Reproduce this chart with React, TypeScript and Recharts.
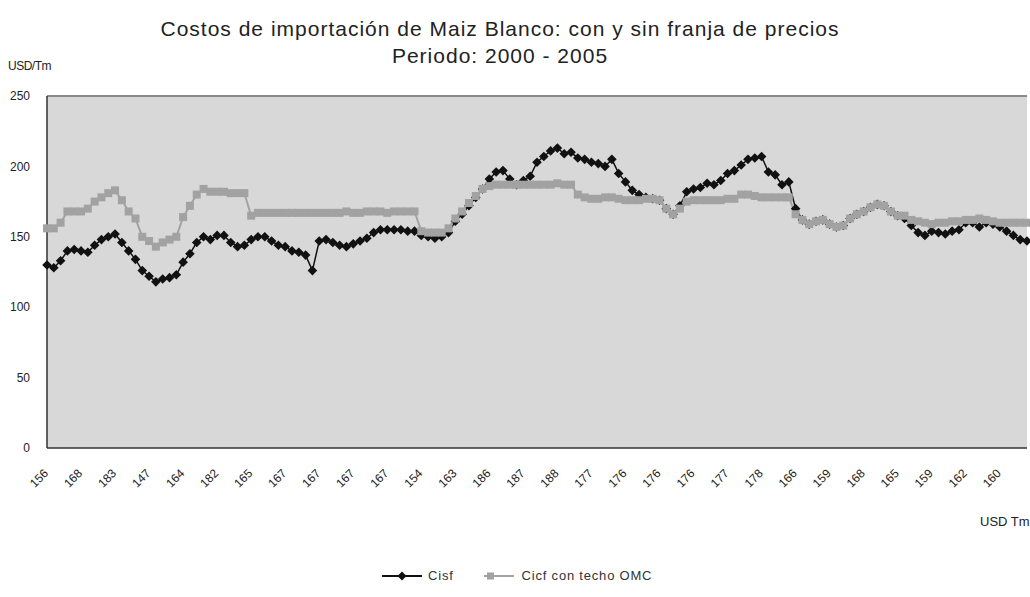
import { LineChart, Line, XAxis, YAxis, CartesianGrid, ReferenceLine } from 'recharts';

// Cisf (sin franja) - weekly import cost, USD/Tm
const cisf = [
  130, 128, 133, 140, 141, 140, 139, 144, 148, 150,
  152, 146, 140, 134, 126, 122, 118, 120, 121, 123,
  132, 138, 146, 150, 148, 151, 151, 146, 143, 144,
  148, 150, 150, 147, 144, 143, 140, 139, 137, 126,
  147, 148, 146, 144, 143, 145, 147, 149, 153, 155,
  155, 155, 155, 154, 154, 151, 150, 149, 150, 153,
  161, 166, 172, 178, 184, 191, 196, 197, 191, 187,
  190, 193, 203, 207, 211, 213, 209, 210, 206, 205,
  203, 202, 200, 205, 195, 189, 183, 180, 178, 177,
  176, 170, 166, 172, 182, 184, 185, 188, 187, 190,
  195, 197, 201, 205, 206, 207, 196, 194, 187, 189,
  170, 162, 159, 161, 162, 159, 157, 158, 163, 166,
  168, 171, 173, 172, 168, 165, 163, 158, 153, 151,
  154, 153, 152, 154, 155, 160, 160, 157, 160, 159,
  157, 154, 151, 148, 147,
];

// Cicf con techo OMC
const cicf = [
  156, 156, 160, 168, 168, 168, 170, 175, 178, 181,
  183, 176, 168, 163, 150, 147, 143, 146, 148, 150,
  164, 172, 180, 184, 182, 182, 182, 181, 181, 181,
  165, 167, 167, 167, 167, 167, 167, 167, 167, 167,
  167, 167, 167, 167, 168, 167, 167, 168, 168, 168,
  167, 168, 168, 168, 168, 154, 153, 153, 153, 156,
  163, 168, 174, 179, 184, 186, 187, 187, 187, 187,
  187, 187, 187, 187, 187, 188, 187, 187, 180, 178,
  177, 177, 178, 178, 177, 176, 176, 176, 177, 177,
  176, 170, 166, 170, 175, 176, 176, 176, 176, 176,
  177, 177, 180, 180, 179, 178, 178, 178, 178, 178,
  166, 162, 159, 161, 162, 159, 157, 158, 163, 166,
  168, 171, 173, 172, 168, 165, 165, 162, 161, 160,
  159, 160, 160, 161, 161, 162, 162, 163, 162, 161,
  160, 160, 160, 160, 160,
];

// category labels shown every 5th week
const tickLabels = [
  156, 168, 183, 147, 164, 182, 165, 167, 167, 167,
  167, 154, 163, 186, 187, 188, 177, 176, 176, 176,
  177, 178, 166, 159, 168, 165, 159, 162, 160,
];

const yTicks = [0, 50, 100, 150, 200, 250];

const data = cisf.map((v, i) => ({ idx: i, cisf: v, cicf: cicf[i] }));

const font = 'Arial, "Liberation Sans", sans-serif';

const Diamond = (props: any) => {
  const { cx, cy, index } = props;
  if (cx == null || cy == null) return null;
  const r = 4.8;
  return (
    <path
      key={`d-${index}`}
      d={`M${cx},${cy - r}L${cx + r},${cy}L${cx},${cy + r}L${cx - r},${cy}Z`}
      fill="#111"
    />
  );
};

const Square = (props: any) => {
  const { cx, cy, index } = props;
  if (cx == null || cy == null) return null;
  return <rect key={`s-${index}`} x={cx - 4} y={cy - 4} width={8} height={8} fill="#a2a2a2" />;
};

export default function App() {
  return (
    <div style={{ position: 'absolute', left: 0, top: 0, width: 1030, height: 597, background: '#fff', fontFamily: font }}>
      <div style={{ position: 'absolute', top: 17, left: 0, width: 1000, textAlign: 'center', fontSize: 21, color: '#222', letterSpacing: 1 }}>
        Costos de importación de Maiz Blanco: con y sin franja de precios
      </div>
      <div style={{ position: 'absolute', top: 44, left: 0, width: 1000, textAlign: 'center', fontSize: 21, color: '#222', letterSpacing: 1 }}>
        Periodo: 2000 - 2005
      </div>
      <div style={{ position: 'absolute', top: 59, left: 8, fontSize: 12, color: '#222', letterSpacing: -0.5 }}>USD/Tm</div>
      <div style={{ position: 'absolute', top: 514, left: 980, fontSize: 13, color: '#222', whiteSpace: 'nowrap' }}>USD Tm</div>

      <div style={{ position: 'absolute', left: 0, top: 0 }}>
        <LineChart width={1030} height={597} data={data} margin={{ top: 96, right: 3, bottom: 0, left: 0 }}>
          <CartesianGrid horizontal={false} vertical={false} fill="#d8d8d8" />
          <ReferenceLine y={250} stroke="#8a8a8a" strokeWidth={2} />
          <XAxis
            dataKey="idx"
            interval={4}
            tickFormatter={(v: number) => String(tickLabels[v / 5] ?? '')}
            angle={-45}
            textAnchor="end"
            tickSize={0}
            tickMargin={20}
            tick={{ fontSize: 12, fill: '#222', fontFamily: font, dx: -4 }}
            axisLine={{ stroke: '#333', strokeWidth: 1.5 }}
            height={149}
          />
          <YAxis
            domain={[0, 250]}
            ticks={yTicks}
            width={47}
            tickSize={0}
            tickMargin={17}
            tick={{ fontSize: 12, fill: '#222', fontFamily: font }}
            axisLine={{ stroke: '#333', strokeWidth: 1.5 }}
          />
          <Line
            dataKey="cisf"
            stroke="#111"
            strokeWidth={1.5}
            dot={Diamond}
            activeDot={false}
            isAnimationActive={false}
          />
          <Line
            dataKey="cicf"
            stroke="#a2a2a2"
            strokeWidth={2}
            dot={Square}
            activeDot={false}
            isAnimationActive={false}
          />
        </LineChart>
      </div>

      <div style={{ position: 'absolute', top: 568, left: 380, fontSize: 13, color: '#333', display: 'flex', alignItems: 'center', letterSpacing: 0.8 }}>
        <svg width={44} height={12}>
          <line x1={2} y1={6} x2={42} y2={6} stroke="#111" strokeWidth={2} />
          <path d="M22,1.5L26.5,6L22,10.5L17.5,6Z" fill="#111" />
        </svg>
        <span style={{ marginLeft: 4 }}>Cisf</span>
        <svg width={34} height={12} style={{ marginLeft: 28 }}>
          <line x1={2} y1={6} x2={32} y2={6} stroke="#a2a2a2" strokeWidth={2} />
          <rect x={5} y={2.5} width={7} height={7} fill="#a2a2a2" />
        </svg>
        <span style={{ marginLeft: 6 }}>Cicf con techo OMC</span>
      </div>
    </div>
  );
}
